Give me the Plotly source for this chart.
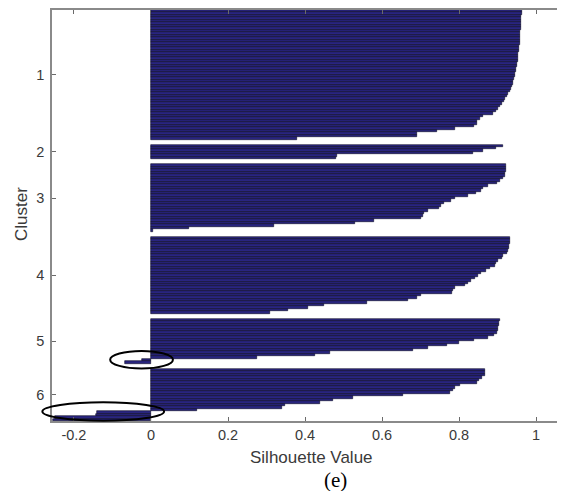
import plotly.graph_objects as go

# ---- data ----
cluster_names = ["1", "2", "3", "4", "5", "6"]

sil_c1 = [0.963, 0.963, 0.962, 0.962, 0.961, 0.961, 0.960, 0.960, 0.959, 0.959,
          0.958, 0.958, 0.957, 0.957, 0.956, 0.955, 0.955, 0.954, 0.953, 0.953,
          0.952, 0.951, 0.950, 0.949, 0.948, 0.946, 0.945, 0.943, 0.941, 0.939,
          0.937, 0.934, 0.931, 0.928, 0.924, 0.920, 0.916, 0.911, 0.906, 0.900,
          0.895, 0.888, 0.862, 0.855, 0.846, 0.846, 0.840, 0.790, 0.742, 0.690,
          0.690, 0.378]
sil_c2 = [0.915, 0.897, 0.862, 0.835, 0.483, 0.480]
sil_c3 = [0.923, 0.922, 0.921, 0.920, 0.918, 0.915, 0.906, 0.898, 0.875, 0.863,
          0.858, 0.845, 0.824, 0.790, 0.778, 0.760, 0.752, 0.748, 0.720, 0.710,
          0.706, 0.700, 0.580, 0.530, 0.320, 0.100, 0.005]
sil_c4 = [0.932, 0.931, 0.931, 0.930, 0.930, 0.928, 0.925, 0.915, 0.911, 0.902,
          0.897, 0.893, 0.880, 0.870, 0.856, 0.848, 0.842, 0.830, 0.824, 0.816,
          0.790, 0.785, 0.781, 0.700, 0.690, 0.668, 0.560, 0.450, 0.408, 0.356,
          0.309]
sil_c5 = [0.905, 0.904, 0.903, 0.902, 0.901, 0.898, 0.890, 0.876, 0.840, 0.800,
          0.768, 0.720, 0.681, 0.465, 0.426, 0.275, -0.024, -0.068]
sil_c6 = [0.868, 0.868, 0.866, 0.859, 0.852, 0.846, 0.803, 0.790, 0.785, 0.777,
          0.655, 0.525, 0.473, 0.439, 0.348, 0.340, 0.119, -0.140, -0.142, -0.250,
          -0.254]

x_tick_vals = [-0.2, 0, 0.2, 0.4, 0.6, 0.8, 1]
x_tick_text = ["-0.2", "0", "0.2", "0.4", "0.6", "0.8", "1"]

clusters = [sil_c1, sil_c2, sil_c3, sil_c4, sil_c5, sil_c6]

# ---- layout of bars (MATLAB silhouette style: gap rows between clusters) ----
GAP = 2
ys, xs, tick_pos = [], [], []
row = 1
for vals in clusters:
    pos = list(range(row, row + len(vals)))
    ys += pos
    xs += vals
    tick_pos.append(sum(pos) / len(pos))
    row += len(vals) + GAP
total_rows = row - GAP - 1

X_MIN, X_MAX = -0.257, 1.075
Y_TOP, Y_BOT = 0.5, total_rows + 0.5

fig = go.Figure()
fig.add_trace(go.Bar(
    x=xs, y=ys, orientation="h", width=1,
    marker=dict(color="#29257f", line=dict(color="#0b0a24", width=0.6)),
    showlegend=False, hoverinfo="x+y",
))

axis_font = dict(family="Liberation Sans, Arial, sans-serif", size=14.5, color="#3a3a3a")

fig.update_xaxes(
    range=[X_MIN, X_MAX], tickvals=x_tick_vals, ticktext=x_tick_text,
    showgrid=False, zeroline=False, showline=True, linecolor="#8a8a8a", linewidth=1.5,
    mirror="ticks", ticks="inside", ticklen=4, tickcolor="#6a6a6a", tickwidth=1,
    tickfont=axis_font,
)
fig.update_yaxes(
    range=[Y_BOT, Y_TOP], tickvals=tick_pos, ticktext=cluster_names,
    showgrid=False, zeroline=False, showline=True, linecolor="#8a8a8a", linewidth=1.5,
    ticks="inside", ticklen=4, tickcolor="#6a6a6a", tickwidth=1,
    tickfont=axis_font, ticklabelstandoff=3,
)

# ellipses (highlighting the negative silhouette values), given in data units
def to_paper(xv, yv):
    px = (xv - X_MIN) / (X_MAX - X_MIN)
    py = 1 - (yv - Y_TOP) / (Y_BOT - Y_TOP)
    return px, py

ellipses = [(-0.106, 0.057, 137.4, 144.4), (-0.282, 0.034, 158.0, 165.4)]
for x0, x1, y0, y1 in ellipses:
    px0, py0 = to_paper(x0, y0)
    px1, py1 = to_paper(x1, y1)
    fig.add_shape(type="circle", xref="paper", yref="paper",
                  x0=px0, x1=px1, y0=py1, y1=py0,
                  line=dict(color="black", width=2), layer="above")

fig.add_annotation(text="Silhouette Value", xref="paper", yref="paper",
                   x=0.505, y=-0.0896, xanchor="center", yanchor="middle",
                   showarrow=False,
                   font=dict(family="Liberation Sans, Arial, sans-serif", size=17, color="#3a3a3a"))
fig.add_annotation(text="Cluster", xref="paper", yref="paper",
                   x=-0.0604, y=0.5036, textangle=-90, xanchor="center", yanchor="middle",
                   showarrow=False,
                   font=dict(family="Liberation Sans, Arial, sans-serif", size=17, color="#3a3a3a"))
fig.add_annotation(text="(e)", xref="paper", yref="paper",
                   x=0.553, y=-0.143, xanchor="center", yanchor="middle",
                   showarrow=False,
                   font=dict(family="Liberation Serif, Times New Roman, serif", size=21, color="black"))

# the page adds an 8 px body margin, so the figure is sized to fit the window
fig.update_layout(
    width=557, height=483,
    margin=dict(l=44, r=0, t=0, b=70),
    plot_bgcolor="white", paper_bgcolor="white",
    bargap=0,
)

fig.write_html("out.html")
